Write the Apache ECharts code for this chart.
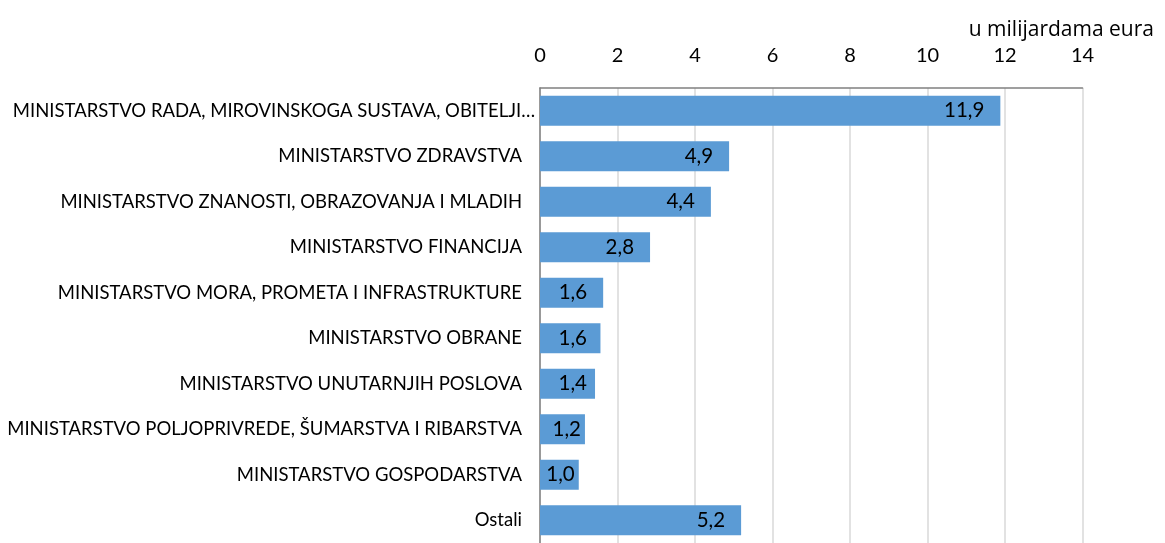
<!DOCTYPE html>
<html><head><meta charset="utf-8">
<script src="https://cdn.jsdelivr.net/npm/echarts@6/dist/echarts.min.js"></script>
<style>html,body{margin:0;padding:0;background:#fff}#c{width:1165px;height:543px}</style>
</head><body><div id="c"></div>
<script>
const categories = [
  "MINISTARSTVO RADA, MIROVINSKOGA SUSTAVA, OBITELJI…",
  "MINISTARSTVO ZDRAVSTVA",
  "MINISTARSTVO ZNANOSTI, OBRAZOVANJA I MLADIH",
  "MINISTARSTVO FINANCIJA",
  "MINISTARSTVO MORA, PROMETA I INFRASTRUKTURE",
  "MINISTARSTVO OBRANE",
  "MINISTARSTVO UNUTARNJIH POSLOVA",
  "MINISTARSTVO POLJOPRIVREDE, ŠUMARSTVA I RIBARSTVA",
  "MINISTARSTVO GOSPODARSTVA",
  "Ostali"
];
const values = [11.88, 4.88, 4.41, 2.84, 1.63, 1.56, 1.42, 1.16, 1.0, 5.19];
const tickLabels = ["0","2","4","6","8","10","12","14"];
const unitLabel = "u milijardama eura";

const plotLeft = 540, plotRight = 82.5, axisMax = 14;
const pxPerUnit = (1165 - plotLeft - plotRight) / axisMax;

// Excel-like "inside end" label placement: keep label inside short bars
function labelDistance(v) {
  const barPx = v * pxPerUnit;
  let right = Math.max(barPx - 16, 47);
  if (right > barPx + 1) right = barPx - 4;
  return barPx - right;
}

const chart = echarts.init(document.getElementById('c'));
chart.setOption({
  animation: false,
  title: {
    text: unitLabel, right: 6, top: 15,
    textStyle: {fontFamily: 'Open Sans', fontSize: 21, fontWeight: 'normal', color: '#000'}
  },
  grid: {left: plotLeft, right: plotRight, top: 88, bottom: -6, containLabel: false},
  xAxis: {
    type: 'value', position: 'top', min: 0, max: axisMax, interval: 2,
    axisLine: {show: true, lineStyle: {color: '#808080', width: 1.5}},
    axisTick: {show: false},
    splitLine: {show: true, lineStyle: {color: '#d9d9d9', width: 1.5}},
    axisLabel: {
      margin: 22, color: '#000', fontFamily: 'Lato', fontSize: 20,
      formatter: v => tickLabels[Math.round(v / 2)]
    }
  },
  yAxis: {
    type: 'category', inverse: true, data: categories,
    axisLine: {show: true, lineStyle: {color: '#808080', width: 1.5}},
    axisTick: {show: false},
    axisLabel: {
      margin: 18, color: '#000', fontFamily: 'Lato', fontSize: 18.5,
      formatter: (v, i) => i === 0 ? '{a|' + v + '}' : v,
      rich: {a: {fontFamily: 'Lato', fontSize: 18.5, color: '#000', padding: [0, -13, 0, 0]}}
    }
  },
  series: [{
    type: 'bar', barWidth: 30,
    data: values.map(v => ({value: v, label: {distance: labelDistance(v)}})),
    itemStyle: {color: '#5b9bd5'},
    label: {
      show: true, position: 'insideRight', color: '#000',
      fontFamily: 'Lato', fontSize: 20.5,
      formatter: p => p.value.toFixed(1).replace('.', ',')
    }
  }]
});
</script></body></html>
